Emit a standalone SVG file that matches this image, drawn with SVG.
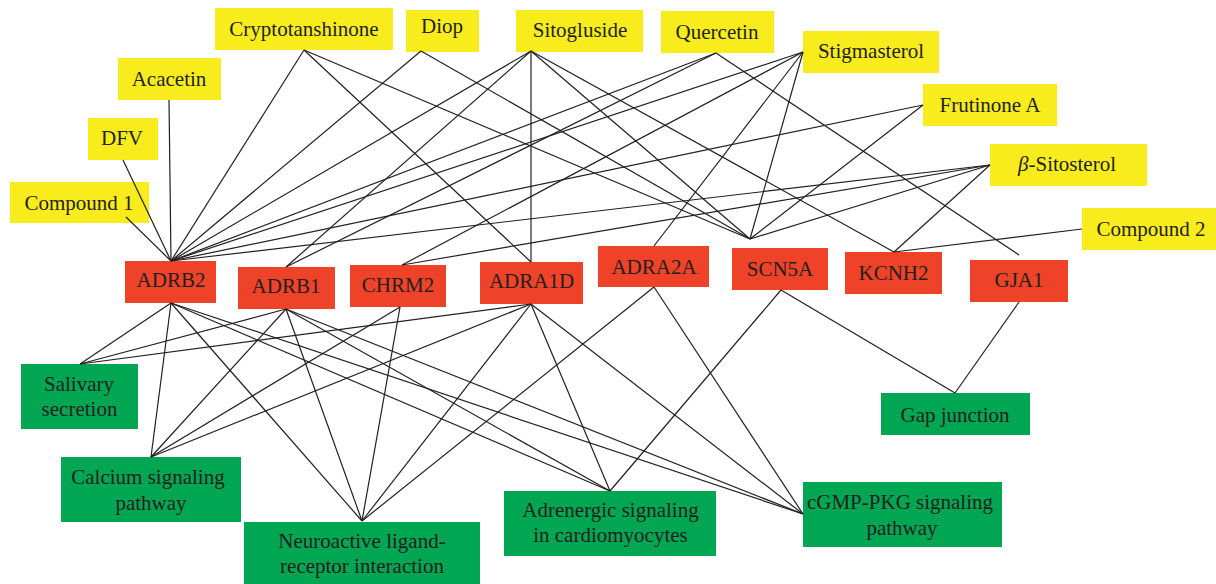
<svg xmlns="http://www.w3.org/2000/svg" width="1216" height="584" viewBox="0 0 1216 584">
<style>
.y{fill:#f8ec1c}
.r{fill:#ee4328}
.g{fill:#00a651}
text{font-family:"Liberation Serif","Times New Roman",serif;font-size:21px;fill:#231f20;text-anchor:middle}
#connectors line{stroke:#231f20;stroke-width:1.2}
</style>
<rect width="1216" height="584" fill="#ffffff"/>
<g id="compounds">
<g id="compound1"><rect class="y" x="10" y="182" width="139" height="41"/><text x="79" y="210">Compound 1</text></g>
<g id="dfv"><rect class="y" x="88" y="118" width="70" height="42"/><text x="122" y="145">DFV</text></g>
<g id="acacetin"><rect class="y" x="118" y="58" width="103" height="42"/><text x="169" y="86">Acacetin</text></g>
<g id="cryptotanshinone"><rect class="y" x="215" y="8" width="178" height="42"/><text x="304" y="36">Cryptotanshinone</text></g>
<g id="diop"><rect class="y" x="406" y="10" width="73" height="42"/><text x="442" y="33">Diop</text></g>
<g id="sitogluside"><rect class="y" x="516" y="10" width="127" height="42"/><text x="580" y="37">Sitogluside</text></g>
<g id="quercetin"><rect class="y" x="661" y="11" width="113" height="42"/><text x="717" y="39">Quercetin</text></g>
<g id="stigmasterol"><rect class="y" x="803" y="31" width="136" height="42"/><text x="871" y="58">Stigmasterol</text></g>
<g id="frutinoneA"><rect class="y" x="923" y="84" width="134" height="42"/><text x="990" y="111.5">Frutinone A</text></g>
<g id="betaSitosterol"><rect class="y" x="990" y="144" width="157" height="42"/><text x="1067" y="170.5"><tspan font-style="italic">β</tspan>-Sitosterol</text></g>
<g id="compound2"><rect class="y" x="1082" y="208" width="134" height="42"/><text x="1151" y="235.5">Compound 2</text></g>
</g>
<g id="targets">
<g id="ADRB2"><rect class="r" x="125" y="261" width="91" height="42"/><text x="171" y="287">ADRB2</text></g>
<g id="ADRB1"><rect class="r" x="238" y="267" width="97" height="42"/><text x="286" y="293">ADRB1</text></g>
<g id="CHRM2"><rect class="r" x="350" y="265" width="96" height="42"/><text x="398" y="291.5">CHRM2</text></g>
<g id="ADRA1D"><rect class="r" x="480" y="262" width="103" height="42"/><text x="531.5" y="288">ADRA1D</text></g>
<g id="ADRA2A"><rect class="r" x="598" y="246" width="111" height="41"/><text x="654" y="274">ADRA2A</text></g>
<g id="SCN5A"><rect class="r" x="732" y="248" width="96" height="42"/><text x="780" y="276">SCN5A</text></g>
<g id="KCNH2"><rect class="r" x="845" y="252" width="97" height="42"/><text x="893.5" y="280">KCNH2</text></g>
<g id="GJA1"><rect class="r" x="970" y="260" width="98" height="42"/><text x="1019" y="287">GJA1</text></g>
</g>
<g id="pathways">
<g id="salivary"><rect class="g" x="21" y="364" width="117" height="65"/><text x="79" y="391">Salivary</text><text x="79.5" y="416">secretion</text></g>
<g id="calcium"><rect class="g" x="61" y="457" width="180" height="65"/><text x="148" y="484">Calcium signaling</text><text x="151" y="510">pathway</text></g>
<g id="neuroactive"><rect class="g" x="244" y="522" width="236" height="62"/><text x="362" y="548">Neuroactive ligand-</text><text x="362" y="573">receptor interaction</text></g>
<g id="adrenergic"><rect class="g" x="504" y="491" width="212" height="65"/><text x="610.5" y="517">Adrenergic signaling</text><text x="610.5" y="542">in cardiomyocytes</text></g>
<g id="cgmp"><rect class="g" x="803" y="482" width="199" height="65"/><text x="900" y="509">cGMP-PKG signaling</text><text x="902" y="535">pathway</text></g>
<g id="gapjunction"><rect class="g" x="881" y="393" width="149" height="42"/><text x="955" y="421.5">Gap junction</text></g>
</g>
<g id="connectors">
<line x1="126" y1="217" x2="171" y2="261"/>
<line x1="123" y1="160" x2="171" y2="261"/>
<line x1="169" y1="100" x2="171" y2="261"/>
<line x1="304" y1="50" x2="171" y2="261"/>
<line x1="304" y1="50" x2="531" y2="262"/>
<line x1="304" y1="50" x2="750" y2="239"/>
<line x1="421" y1="51" x2="171" y2="261"/>
<line x1="421" y1="51" x2="750" y2="239"/>
<line x1="531" y1="51" x2="171" y2="261"/>
<line x1="531" y1="51" x2="286" y2="267"/>
<line x1="531" y1="51" x2="531" y2="262"/>
<line x1="531" y1="51" x2="750" y2="239"/>
<line x1="531" y1="51" x2="894" y2="252"/>
<line x1="716" y1="53" x2="171" y2="261"/>
<line x1="716" y1="53" x2="286" y2="267"/>
<line x1="716" y1="53" x2="1019" y2="255"/>
<line x1="803" y1="52" x2="171" y2="261"/>
<line x1="803" y1="52" x2="402" y2="265"/>
<line x1="803" y1="52" x2="654" y2="246"/>
<line x1="803" y1="52" x2="750" y2="239"/>
<line x1="923" y1="105" x2="171" y2="261"/>
<line x1="923" y1="105" x2="750" y2="239"/>
<line x1="990" y1="165" x2="171" y2="261"/>
<line x1="990" y1="165" x2="402" y2="265"/>
<line x1="990" y1="165" x2="750" y2="239"/>
<line x1="990" y1="165" x2="894" y2="252"/>
<line x1="1082" y1="229" x2="894" y2="252"/>
<line x1="171" y1="303" x2="80" y2="364"/>
<line x1="171" y1="303" x2="151" y2="457"/>
<line x1="171" y1="303" x2="362" y2="521"/>
<line x1="171" y1="303" x2="610" y2="491"/>
<line x1="171" y1="303" x2="803" y2="514"/>
<line x1="286" y1="309" x2="80" y2="364"/>
<line x1="286" y1="309" x2="151" y2="457"/>
<line x1="286" y1="309" x2="362" y2="521"/>
<line x1="286" y1="309" x2="610" y2="491"/>
<line x1="286" y1="309" x2="803" y2="514"/>
<line x1="400" y1="307" x2="151" y2="457"/>
<line x1="400" y1="307" x2="362" y2="521"/>
<line x1="531" y1="304" x2="80" y2="364"/>
<line x1="531" y1="304" x2="151" y2="457"/>
<line x1="531" y1="304" x2="362" y2="521"/>
<line x1="531" y1="304" x2="610" y2="491"/>
<line x1="531" y1="304" x2="803" y2="514"/>
<line x1="654" y1="287" x2="362" y2="521"/>
<line x1="654" y1="287" x2="803" y2="514"/>
<line x1="781" y1="290" x2="610" y2="491"/>
<line x1="781" y1="290" x2="955" y2="393"/>
<line x1="1019" y1="302" x2="955" y2="393"/>
</g>
</svg>
